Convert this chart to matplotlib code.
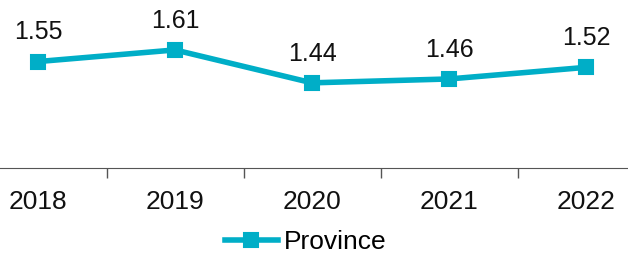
import numpy as np
import matplotlib
matplotlib.use('Agg')
import matplotlib.pyplot as plt

years = ['2018', '2019', '2020', '2021', '2022']
province = [1.55, 1.61, 1.44, 1.46, 1.52]

plt.rcParams['font.family'] = ['Liberation Sans', 'DejaVu Sans']
color = '#00AEC7'

fig = plt.figure(figsize=(6.28, 2.6), dpi=100)
ax = fig.add_axes([0, 1 - 168 / 260, 1, 168 / 260])

x = np.arange(len(years))
line, = ax.plot(x, province, '-s', color=color, linewidth=4, markersize=9.5,
                markeredgewidth=1.5, label='Province')
line.set_markeredgecolor(color)
for xi, v in zip(x, province):
    ax.annotate(f'{v:.2f}', (xi, v), textcoords='offset points', xytext=(0, 16),
                ha='center', va='baseline', fontsize=18, color='#111111')

ax.set_xlim(-38 / 137, (628 - 38) / 137)
ax.set_ylim(1.0, 1.868)
ax.set_yticks([])
ax.set_xticks(x)
ax.set_xticklabels(years, fontsize=19, color='#111111')
ax.tick_params(axis='x', which='major', length=0, pad=16)
ax.set_xticks(x[:-1] + 0.5, minor=True)
ax.tick_params(axis='x', which='minor', length=7, color='#555555', width=1)
for s in ['top', 'right', 'left']:
    ax.spines[s].set_visible(False)
ax.spines['bottom'].set_color('#555555')

fig.legend(loc='center', bbox_to_anchor=(306 / 628, 1 - 242 / 260), frameon=False,
           fontsize=19, handlelength=2.0, handletextpad=0.25,
           borderpad=0, borderaxespad=0)

plt.savefig('out.png', dpi=100)
